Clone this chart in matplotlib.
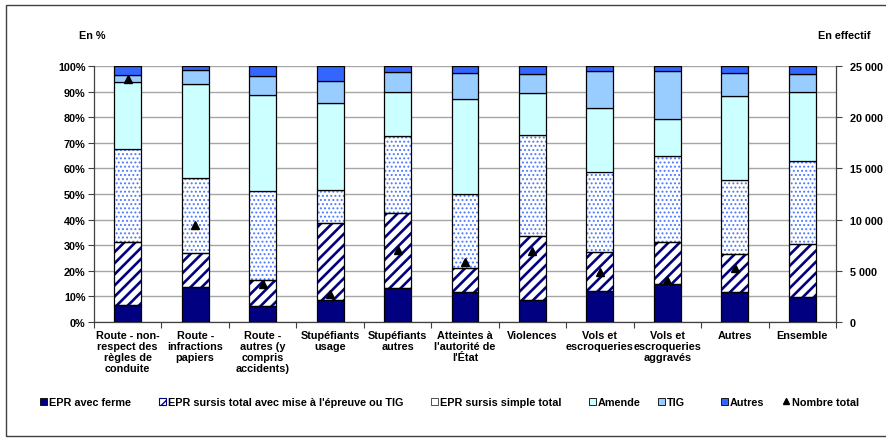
import matplotlib
matplotlib.use("Agg")
import matplotlib.pyplot as plt
import numpy as np
from matplotlib.patches import Patch, Rectangle
from matplotlib.lines import Line2D
from matplotlib.ticker import FuncFormatter

plt.rcParams['font.family'] = ['Liberation Sans', 'DejaVu Sans']
plt.rcParams['font.weight'] = 'bold'

categories = [
    "Route - non-\nrespect des\nrègles de\nconduite",
    "Route -\ninfractions\npapiers",
    "Route -\nautres (y\ncompris\naccidents)",
    "Stupéfiants\nusage",
    "Stupéfiants\nautres",
    "Atteintes à\nl'autorité de\nl'État",
    "Violences",
    "Vols et\nescroqueries",
    "Vols et\nescroqueries\naggravés",
    "Autres",
    "Ensemble",
]

# Shares of each sanction type (%), stacked bottom to top
epr_ferme = [6.8, 13.5, 6.3, 8.4, 13.3, 11.6, 8.4, 12.3, 15.0, 11.8, 9.9]
epr_sursis_mae = [24.6, 13.6, 10.0, 30.4, 29.2, 9.4, 25.3, 15.2, 16.4, 14.9, 20.4]
epr_sursis_simple = [36.1, 29.1, 34.7, 12.7, 30.2, 28.9, 39.2, 31.2, 33.3, 28.6, 32.4]
amende = [26.2, 36.9, 37.6, 34.1, 17.2, 37.2, 16.5, 24.7, 14.5, 32.8, 27.1]
tig = [2.6, 5.3, 7.3, 8.5, 7.6, 10.0, 7.5, 14.5, 18.7, 9.0, 7.1]
autres = [3.7, 1.6, 4.1, 5.9, 2.5, 2.9, 3.1, 2.1, 2.1, 2.9, 3.1]

# Total number of sentences (right axis); none shown for "Ensemble"
nombre_total = [23700, 9480, 3700, 2700, 7030, 5820, 6960, 4840, 4090, 5230, np.nan]

series_labels = [
    "EPR avec ferme",
    "EPR sursis total avec mise à l'épreuve ou TIG",
    "EPR sursis simple total",
    "Amende",
    "TIG",
    "Autres",
]
left_ticks = list(range(0, 101, 10))
right_ticks = list(range(0, 25001, 5000))

FS = 7.8
NAVY = "#000080"
DOT = "#4d79ff"

fig = plt.figure(figsize=(8.86, 4.39), dpi=100)
W, H = 886, 439
ax = fig.add_axes([94 / W, 1 - 323 / H, (836 - 94) / W, (323 - 67) / H])

x = np.arange(len(categories))
bw = 0.40

# (values, face, hatch, hatch colour, hatch linewidth)
styles = [
    (epr_ferme, NAVY, None, None, None),
    (epr_sursis_mae, "white", "///", NAVY, 1.9),
    (epr_sursis_simple, "white", "....", DOT, 0.9),
    (amende, "#CCFFFF", None, None, None),
    (tig, "#99CCFF", None, None, None),
    (autres, "#3366FF", None, None, None),
]

bottom = np.zeros(len(categories))
for vals, face, hatch, hcol, hlw in styles:
    vals = np.array(vals)
    if hatch:
        with plt.rc_context({'hatch.linewidth': hlw}):
            ax.bar(x, vals, bw, bottom=bottom, color=face, edgecolor=hcol,
                   hatch=hatch, linewidth=0, zorder=2)
        ax.bar(x, vals, bw, bottom=bottom, fill=False, edgecolor="black",
               linewidth=0.9, zorder=3)
    else:
        ax.bar(x, vals, bw, bottom=bottom, color=face, edgecolor="black",
               linewidth=0.9, zorder=3)
    bottom += vals

ax.set_xlim(-0.5, len(categories) - 0.5)
ax.set_ylim(0, 100)
ax.set_yticks(left_ticks)
ax.yaxis.set_major_formatter(FuncFormatter(lambda v, p: f"{int(v)}%"))
ax.grid(axis='y', color="#a6a6a6", linewidth=1.0, zorder=0)
ax.set_axisbelow(True)

ax.set_xticks(x)
ax.set_xticklabels(categories, fontsize=FS, fontweight='bold', linespacing=1.12)
ax.tick_params(axis='x', which='major', length=0, pad=6)
ax.set_xticks(np.arange(-0.5, len(categories), 1.0), minor=True)
ax.tick_params(axis='x', which='minor', length=4, direction='out', width=0.8, color="#404040")
ax.tick_params(axis='y', labelsize=FS, length=4, width=0.8, pad=2, color="#404040")
for lab in ax.get_yticklabels():
    lab.set_fontweight('bold')
ax.spines['top'].set_visible(False)
ax.spines['right'].set_visible(False)
for s in ('left', 'bottom'):
    ax.spines[s].set_color("#404040")
    ax.spines[s].set_linewidth(0.9)

ax2 = ax.twinx()
ax2.set_ylim(0, 25000)
ax2.set_yticks(right_ticks)
ax2.yaxis.set_major_formatter(FuncFormatter(lambda v, p: f"{int(v):,}".replace(",", " ")))
ax2.tick_params(axis='y', labelsize=FS, length=4, width=0.8, pad=6, color="#404040")
for lab in ax2.get_yticklabels():
    lab.set_fontweight('bold')
for s in ('top', 'left', 'bottom'):
    ax2.spines[s].set_visible(False)
ax2.spines['right'].set_color("#404040")
ax2.spines['right'].set_linewidth(0.9)
ax2.plot(x, nombre_total, linestyle='none', marker='^', color='black',
         markersize=6, zorder=5)

fig.text(92 / W, 1 - 36 / H, "En %", fontsize=FS, fontweight='bold', ha='center', va='center')
fig.text(844 / W, 1 - 36 / H, "En effectif", fontsize=FS, fontweight='bold', ha='center', va='center')

# Legend entries
handles = [
    Patch(facecolor=NAVY, edgecolor="black", linewidth=0.6),
    Patch(facecolor="white", edgecolor=NAVY, linewidth=0.8, hatch="//"),
    Patch(facecolor="white", edgecolor="#333333", linewidth=0.6),
    Patch(facecolor="#CCFFFF", edgecolor="black", linewidth=0.6),
    Patch(facecolor="#99CCFF", edgecolor="black", linewidth=0.6),
    Patch(facecolor="#3366FF", edgecolor="black", linewidth=0.6),
    Line2D([], [], linestyle='none', marker='^', color='black', markersize=5),
]
labels = series_labels + ["Nombre total"]
legend_x = [40, 159, 431, 589, 658, 721, 783]
for h, lab, lx in zip(handles, labels, legend_x):
    fig.legend(handles=[h], labels=[lab], loc='center left',
               bbox_to_anchor=(lx / W, 1 - 403 / H), frameon=False,
               prop={'size': FS, 'weight': 'bold'}, handlelength=0.6,
               handleheight=0.6, handletextpad=0.2, borderpad=0, borderaxespad=0)

# Outer frame
fig.add_artist(Rectangle((6 / W, 1 - 437 / H), 1.0, (437 - 6) / H,
                         transform=fig.transFigure, fill=False,
                         edgecolor="#404040", linewidth=1.0))

fig.savefig("out.png", dpi=100)
